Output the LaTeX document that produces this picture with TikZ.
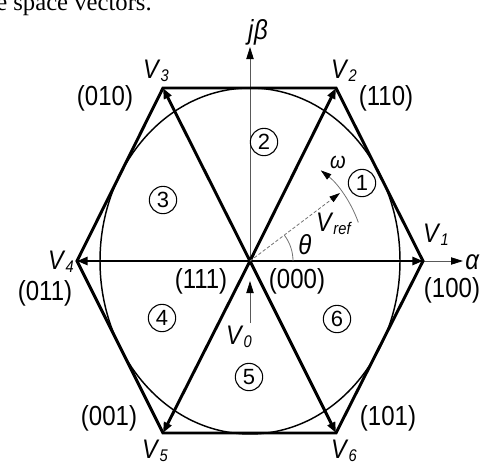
\documentclass[tikz,border=0pt]{standalone}
\usepackage{fontspec}
\setmainfont{Liberation Sans}
\newfontfamily\capserif{Liberation Serif}
\usetikzlibrary{arrows.meta}
\newcommand{\vstr}[1]{\scalebox{1}[1.15]{#1}}
\newcommand{\Vsub}[1]{\vstr{\textit{V}{\fontsize{11}{11}\selectfont\raisebox{-0.35ex}{\textit{#1}}}}}
\begin{document}
\begin{tikzpicture}[x=0.75pt,y=-0.75pt,
  thickvec/.style={line width=2.2pt, -{Triangle[length=8pt,width=6pt]}},
  hexedge/.style={line width=2.2pt, line join=miter},
  thinaxis/.style={line width=0.6pt, draw=black!65, -{Triangle[length=9pt,width=5.5pt,color=black,fill=black]}},
  refvec/.style={line width=0.6pt, draw=black!55, dashed, dash pattern=on 2.5pt off 1.5pt, -{Triangle[length=8pt,width=5pt,color=black,fill=black]}},
  thinarc/.style={line width=0.6pt, draw=black!55},
  lab/.style={font=\fontsize{18}{20}\selectfont, inner sep=0pt},
  vlab/.style={font=\fontsize{17.5}{18}\selectfont, inner sep=0pt},
  greek/.style={font=\fontsize{18}{20}\selectfont\itshape, inner sep=0pt},
  sector/.style={circle, draw, line width=0.8pt, minimum size=20.5pt, inner sep=0pt, font=\fontsize{16.5}{16}\selectfont},
]
\path[use as bounding box] (0,0) rectangle (482,465);
\node[anchor=base west, inner sep=0pt, font=\capserif\fontsize{18.5}{20}\selectfont] (cap) at (-4,10) {e space vectors.};

\coordinate (O) at (250,261);
\coordinate (P1) at (423,261);
\coordinate (P2) at (336,88);
\coordinate (P3) at (163,88);
\coordinate (P4) at (77,261);
\coordinate (P5) at (163,433);
\coordinate (P6) at (336,433);
\coordinate (Aend) at (463,261);
\coordinate (Bend) at (250,47);
\coordinate (Z0) at (250,323);
\coordinate (Z1) at (250,281);
\coordinate (R) at (340,193);

% axes
\draw[thinaxis] (O) -- (Aend);
\draw[thinaxis] (O) -- (Bend);
\draw[thinaxis] (Z0) -- (Z1);

% inscribed circle
\draw[line width=1.1pt] (O) ellipse [x radius=150, y radius=173];

% hexagon
\draw[hexedge] (P1) -- (P2) -- (P3) -- (P4) -- (P5) -- (P6) -- cycle;

% vectors
\foreach \k in {1,...,6} {\draw[thickvec] (O) -- (P\k);}

% reference vector and angles
\draw[refvec] (O) -- (R);
\draw[thinarc] (O) ++(0:43) arc[start angle=0, end angle=-37, radius=43];
\draw[thinarc, -{Triangle[length=8pt,width=5pt,color=black,fill=black]}] (O) ++(-19.6:115) arc[start angle=-19.6, end angle=-52, radius=115];

% labels
\node[greek] (jb) at (258,32) {\vstr{j\kern0.5ptβ}};
\node[greek, anchor=west] (al) at (465,262) {\vstr{α}};
\node[vlab] (v1) at (436,235) {\Vsub{1}};
\node[vlab] (v2) at (344,71) {\Vsub{2}};
\node[vlab] (v3) at (156,71) {\Vsub{3}};
\node[vlab] (v4) at (61,262) {\Vsub{4}};
\node[vlab] (v5) at (155,451) {\Vsub{5}};
\node[vlab] (v6) at (344,451) {\Vsub{6}};
\node[vlab] (v0) at (239,337) {\Vsub{0}};
\node[vlab] (vr) at (334,224) {\Vsub{ref}};
\node[greek] (th) at (305,245) {\vstr{θ}};
\node[greek, font=\fontsize{15}{16}\selectfont\itshape] (om) at (338,162) {\vstr{ω}};

\node[lab] (s010) at (105,98) {\vstr{(010)}};
\node[lab] (s110) at (386,98) {\vstr{(110)}};
\node[lab] (s011) at (45,293) {\vstr{(011)}};
\node[lab] (s100) at (452,290) {\vstr{(100)}};
\node[lab] (s001) at (109,418) {\vstr{(001)}};
\node[lab] (s101) at (388,418) {\vstr{(101)}};
\node[lab] (s111) at (201,281) {\vstr{(111)}};
\node[lab] (s000) at (297,281) {\vstr{(000)}};

\node[sector] (c1) at (362,183) {1};
\node[sector] (c2) at (264,142) {2};
\node[sector] (c3) at (163,200) {3};
\node[sector] (c4) at (162,318) {4};
\node[sector] (c5) at (249,377) {5};
\node[sector] (c6) at (337,319) {6};
\end{tikzpicture}
\end{document}
